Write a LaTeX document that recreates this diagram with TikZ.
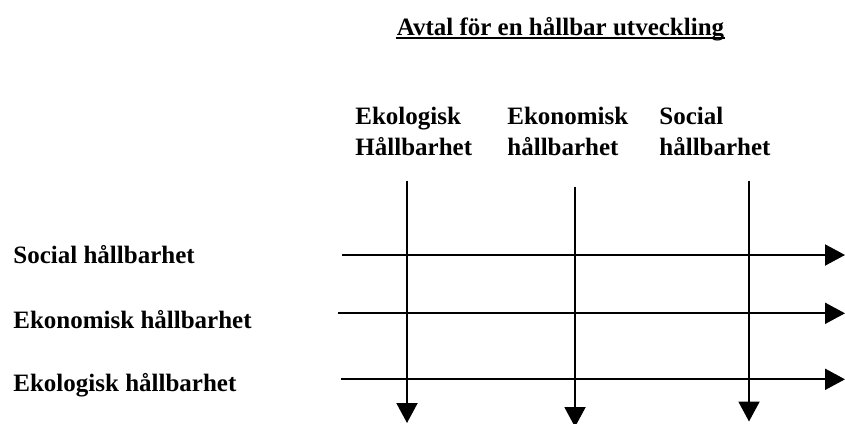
\documentclass[tikz,border=0pt]{standalone}
\usepackage{fontspec}
\setmainfont{Liberation Serif}
\usetikzlibrary{arrows.meta}

\begin{document}
\begin{tikzpicture}[
  x=0.5pt, y=-0.5pt,
  every node/.style={inner sep=0pt, font=\fontsize{12.5}{15.5}\selectfont\bfseries},
  rowlabel/.style={anchor=base west},
  collabel/.style={anchor=north west, align=left},
  arrow/.style={-{Triangle[length=10pt, width=10.5pt]}, line width=1pt}
]
\useasboundingbox (0,0) rectangle (845,423);

% --- Title ---
\node[anchor=base] (title) at (560.5,35) {Avtal för en hållbar utveckling};
\draw[line width=1pt] ([yshift=-1.6pt]title.base west) -- ([yshift=-1.6pt]title.base east);

% --- Column labels ---
\node[collabel] (ekocol) at (355,107) {Ekologisk\\Hållbarhet};
\node[collabel] (ekncol) at (507,107) {Ekonomisk\\hållbarhet};
\node[collabel] (soccol) at (659,107) {Social\\hållbarhet};

% --- Row labels ---
\node[rowlabel] (socrow) at (13,263) {Social hållbarhet};
\node[rowlabel] (eknrow) at (13,328) {Ekonomisk hållbarhet};
\node[rowlabel] (ekorow) at (13,391) {Ekologisk hållbarhet};

% --- Line ends ---
\coordinate (socstart) at (342,255);
\coordinate (socend)   at (845,255);
\coordinate (eknstart) at (338,313.3);
\coordinate (eknend)   at (845,313.3);
\coordinate (ekostart) at (341,379.3);
\coordinate (ekoend)   at (845,379.3);

\coordinate (ekotop) at (407,180.7);
\coordinate (ekobot) at (407,423);
\coordinate (ekntop) at (575,186.7);
\coordinate (eknbot) at (575,427);
\coordinate (soctop) at (749,180.7);
\coordinate (socbot) at (749,421.5);

% Rows
\draw[arrow] (socstart) -- (socend);
\draw[arrow] (eknstart) -- (eknend);
\draw[arrow] (ekostart) -- (ekoend);

% Columns
\draw[arrow] (ekotop) -- (ekobot);
\draw[arrow] (ekntop) -- (eknbot);
\draw[arrow] (soctop) -- (socbot);

\end{tikzpicture}
\end{document}
